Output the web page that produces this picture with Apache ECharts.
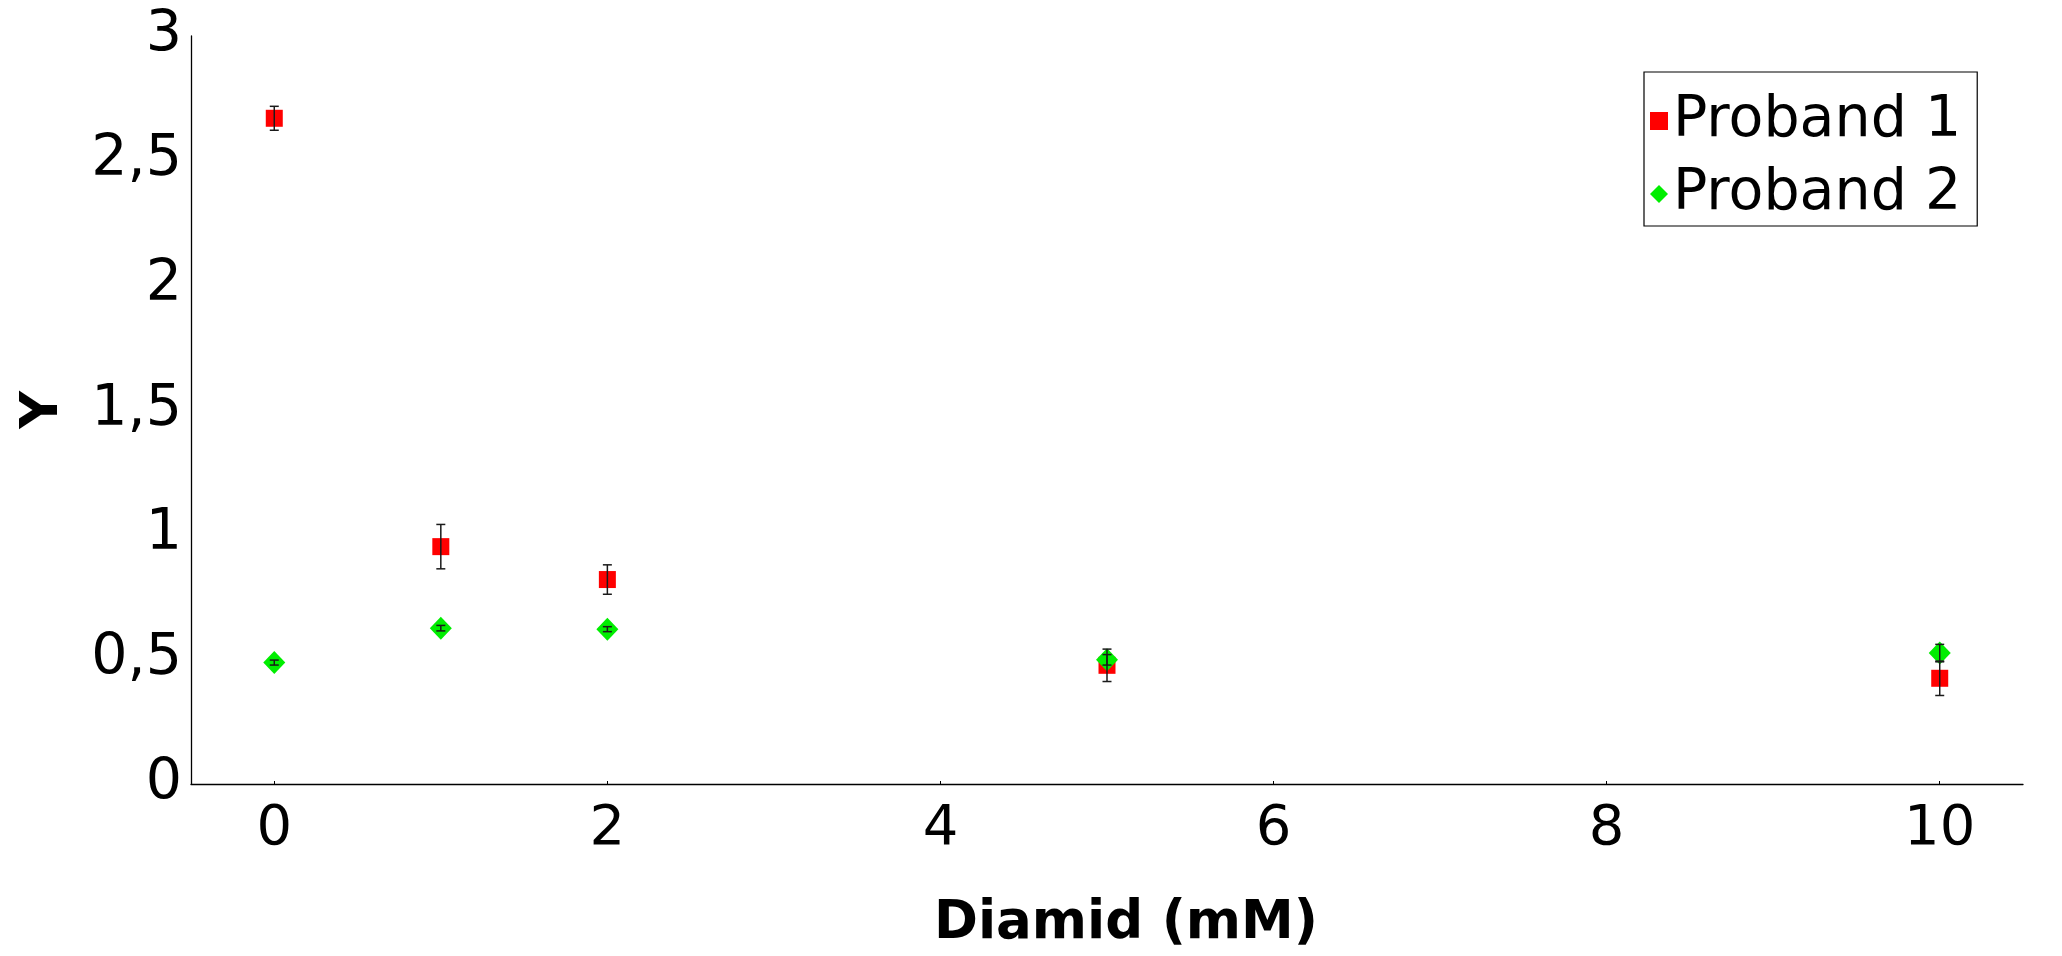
<!DOCTYPE html>
<html>
<head>
<meta charset="utf-8">
<script src="https://cdn.jsdelivr.net/npm/echarts@6/dist/echarts.min.js"></script>
<style>
html,body{margin:0;padding:0;background:#fff;}
#chart{width:2062px;height:956px;}
</style>
</head>
<body>
<div id="chart"></div>
<script>
// ---- data ----
var concentrations = [0, 1, 2, 5, 10];
var proband1 = [2.67, 0.952, 0.82, 0.476, 0.424];
var proband1Err = [0.048, 0.089, 0.059, 0.065, 0.069];
var proband2 = [0.487, 0.625, 0.621, 0.498, 0.525];
var proband2Err = [0.01, 0.011, 0.01, 0.021, 0.035];
var xTicks = [0, 2, 4, 6, 8, 10];
var seriesNames = ['Proband 1', 'Proband 2'];

var FONT = 'DejaVu Sans';

function pairs(xs, ys) { return xs.map(function (x, i) { return [x, ys[i]]; }); }
function errRows(xs, ys, es) { return xs.map(function (x, i) { return [x, ys[i], es[i]]; }); }

var errData = errRows(concentrations, proband1, proband1Err).concat(errRows(concentrations, proband2, proband2Err));

function renderErr(params, api) {
  var x = api.value(0), y = api.value(1), e = api.value(2);
  var lo = api.coord([x, y - e]);
  var hi = api.coord([x, y + e]);
  var cw = 4.5;
  var style = { stroke: '#1a1a1a', lineWidth: 1.5, fill: null };
  return {
    type: 'group',
    children: [
      { type: 'line', shape: { x1: lo[0], y1: lo[1], x2: hi[0], y2: hi[1] }, style: style },
      { type: 'line', shape: { x1: lo[0] - cw, y1: lo[1], x2: lo[0] + cw, y2: lo[1] }, style: style },
      { type: 'line', shape: { x1: hi[0] - cw, y1: hi[1], x2: hi[0] + cw, y2: hi[1] }, style: style }
    ]
  };
}

var chart = echarts.init(document.getElementById('chart'), null, { renderer: 'canvas' });
chart.setOption({
  backgroundColor: '#ffffff',
  animation: false,
  grid: { left: 191, right: 39, top: 36, bottom: 171, containLabel: false },
  legend: {
    data: [
      { name: seriesNames[0], icon: 'rect' },
      { name: seriesNames[1], icon: 'diamond' }
    ],
    orient: 'vertical',
    left: 1644,
    top: 72,
    itemWidth: 18,
    itemHeight: 18,
    itemGap: 9,
    padding: [17, 16, 0, 6],
    borderColor: '#000',
    borderWidth: 1.2,
    backgroundColor: '#fff',
    textStyle: { fontFamily: FONT, fontSize: 57, color: '#000', lineHeight: 64 },
    selectedMode: false
  },
  xAxis: {
    type: 'value',
    min: -0.5,
    max: 10.5,
    name: 'Diamid (mM)',
    nameLocation: 'middle',
    nameGap: 114,
    nameTextStyle: { fontFamily: FONT, fontSize: 53, fontWeight: 'bold', color: '#000', padding: [0, 0, 0, 38] },
    axisLine: { show: true, onZero: false, lineStyle: { color: '#000', width: 1.3 } },
    axisTick: { show: true, inside: true, length: 3, customValues: xTicks, lineStyle: { color: '#000' } },
    axisLabel: { customValues: xTicks, margin: 17, fontFamily: FONT, fontSize: 56, color: '#000' },
    splitLine: { show: false }
  },
  yAxis: {
    type: 'value',
    min: 0,
    max: 3,
    interval: 0.5,
    name: 'Y',
    nameLocation: 'middle',
    nameGap: 122,
    nameRotate: 90,
    nameTextStyle: { fontFamily: FONT, fontSize: 52, fontWeight: 'bold', color: '#000' },
    axisLine: { show: true, onZero: false, lineStyle: { color: '#000', width: 1.3 } },
    axisTick: { show: false },
    axisLabel: {
      margin: 9, fontFamily: FONT, fontSize: 57, color: '#000',
      formatter: function (v) { return String(v).replace('.', ','); }
    },
    splitLine: { show: false }
  },
  series: [
    {
      name: seriesNames[0],
      type: 'scatter',
      symbol: 'rect',
      symbolSize: 17,
      itemStyle: { color: '#ff0000', opacity: 1 },
      data: pairs(concentrations, proband1),
      z: 2
    },
    {
      name: seriesNames[1],
      type: 'scatter',
      symbol: 'diamond',
      symbolSize: [22, 23],
      itemStyle: { color: '#00ee00', opacity: 1 },
      data: pairs(concentrations, proband2),
      z: 3
    },
    {
      name: 'errors',
      type: 'custom',
      renderItem: renderErr,
      data: errData,
      encode: { x: 0, y: 1 },
      z: 4,
      silent: true
    }
  ]
});
</script>
</body>
</html>
